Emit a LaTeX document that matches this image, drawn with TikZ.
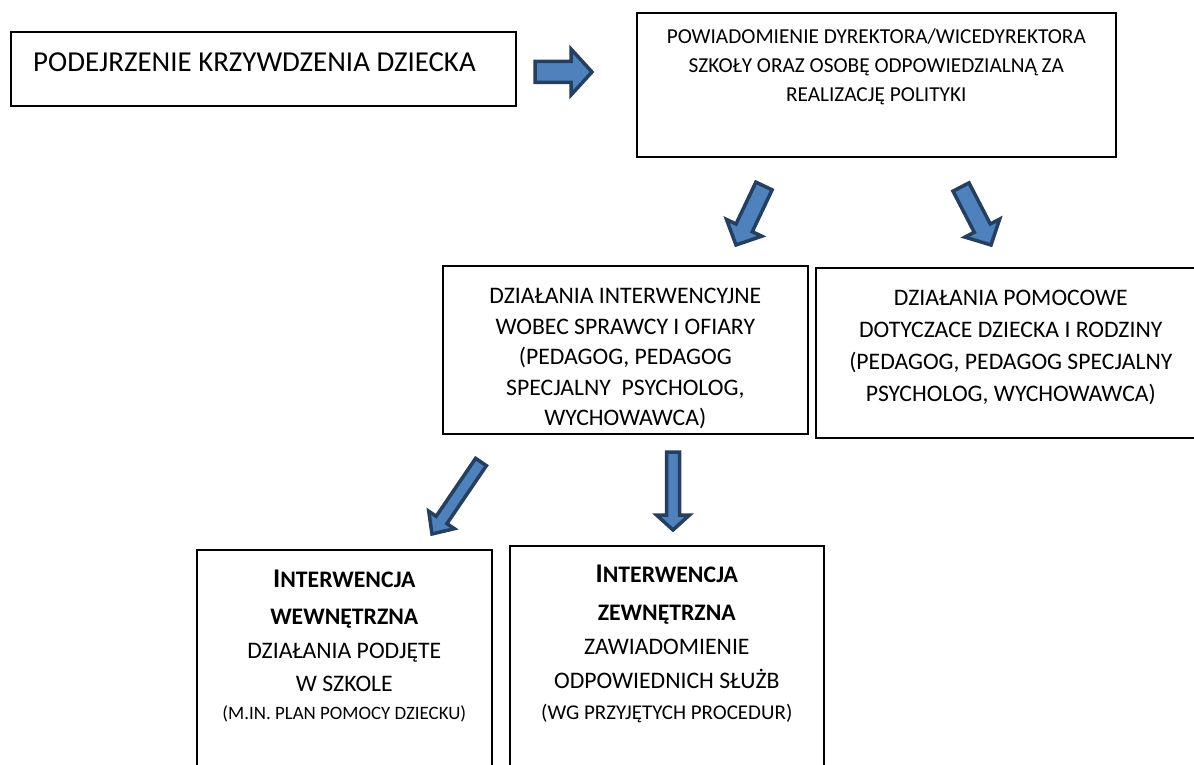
\documentclass[tikz,border=0pt]{standalone}
\usepackage{fontspec}
\setmainfont{Carlito}
\usetikzlibrary{positioning,calc}

\definecolor{arrowfill}{HTML}{4F81BD}
\definecolor{arrowline}{HTML}{243F60}

\tikzset{
  box/.style={draw, line width=1.6pt, anchor=north west, inner sep=0pt},
  boxtext/.style={inner sep=0pt, align=center},
  blockarrow/.style={fill=arrowfill, draw=arrowline, line width=3.5pt, line join=miter},
}

% block arrow: tail #1, tip #2, half shaft #3, half head #4, head length #5
\newcommand{\blockarrow}[5]{%
  \coordinate (hb) at ($(#2)!#5!(#1)$);
  \draw[blockarrow] ($(#1)!#3!90:(#2)$) -- ($(hb)!#3!90:(#2)$) -- ($(hb)!#4!90:(#2)$) -- (#2)
    -- ($(hb)!#4!-90:(#2)$) -- ($(hb)!#3!-90:(#2)$) -- ($(#1)!#3!-90:(#2)$) -- cycle;
}

\begin{document}
\begin{tikzpicture}[x=1pt, y=-1pt]

    % --- Page frame ---
    \useasboundingbox (0,0) rectangle (1194,765);
    \clip (0,0) rectangle (1194,765);

    % --- Boxes ---
    \node[box, minimum width=505, minimum height=74] (suspect) at (10,31) {};
    \node[box, minimum width=479, minimum height=144] (notify) at (636,12) {};
    \node[box, minimum width=365, minimum height=168] (intervene) at (442,265) {};
    \node[box, minimum width=390, minimum height=170] (support) at (815,267) {};
    \node[box, minimum width=295, minimum height=240] (internal) at (196,549) {};
    \node[box, minimum width=314, minimum height=240] (external) at (509,545) {};

    % --- Texts ---
    \node[inner sep=0pt, anchor=west, right=23pt of suspect.west, yshift=7pt,
          font=\fontsize{28.9}{34}\selectfont] (suspecttxt) {PODEJRZENIE KRZYWDZENIA DZIECKA};

    \node[boxtext, below=17pt of notify.north, font=\fontsize{21.3}{29}\selectfont] (notifytxt)
      {POWIADOMIENIE DYREKTORA/WICEDYREKTORA\\
       SZKOŁY ORAZ OSOBĘ ODPOWIEDZIALNĄ ZA\\
       REALIZACJĘ POLITYKI};

    \node[boxtext, below=23pt of intervene.north, font=\fontsize{23.7}{30.5}\selectfont] (intervenetxt)
      {DZIAŁANIA INTERWENCYJNE\\
       WOBEC SPRAWCY I OFIARY\\
       (PEDAGOG, PEDAGOG\\
       SPECJALNY\ \ PSYCHOLOG,\\
       WYCHOWAWCA)};

    \node[boxtext, below=23pt of support.north, font=\fontsize{23.7}{32}\selectfont] (supporttxt)
      {DZIAŁANIA POMOCOWE\\
       DOTYCZACE DZIECKA I RODZINY\\
       (PEDAGOG, PEDAGOG SPECJALNY\\
       PSYCHOLOG, WYCHOWAWCA)};

    \node[boxtext, below=21pt of internal.north, font=\fontsize{23.7}{33.5}\selectfont] (internaltxt)
      {\textbf{{\fontsize{27}{33.5}\selectfont I}NTERWENCJA}\\[3.5pt]
       \textbf{WEWNĘTRZNA}\\
       DZIAŁANIA PODJĘTE\\
       W SZKOLE\\[-6pt]
       {\fontsize{18.9}{22}\selectfont (M.IN. PLAN POMOCY DZIECKU)}};

    \node[boxtext, below=20pt of external.north, font=\fontsize{23.7}{34}\selectfont] (externaltxt)
      {\textbf{{\fontsize{27}{34}\selectfont I}NTERWENCJA}\\[4pt]
       \textbf{ZEWNĘTRZNA}\\
       ZAWIADOMIENIE\\
       ODPOWIEDNICH SŁUŻB\\[-3pt]
       {\fontsize{21}{24}\selectfont (WG PRZYJĘTYCH PROCEDUR)}};

    % --- Arrow ends ---
    \coordinate (tailA) at (535,72);  \coordinate (tipA) at (592,72);
    \coordinate (tailB) at (764,186); \coordinate (tipB) at (736,245);
    \coordinate (tailC) at (961,187); \coordinate (tipC) at (991,245);
    \coordinate (tailD) at (481,462); \coordinate (tipD) at (432,534);
    \coordinate (tailE) at (673,452); \coordinate (tipE) at (673,530);

    % --- Block arrows ---
    \blockarrow{tailA}{tipA}{10.5pt}{23pt}{21pt}
    \blockarrow{tailB}{tipB}{9pt}{19.5pt}{19pt}
    \blockarrow{tailC}{tipC}{9pt}{19.5pt}{19pt}
    \blockarrow{tailD}{tipD}{6.5pt}{15.5pt}{17pt}
    \blockarrow{tailE}{tipE}{6.5pt}{16.5pt}{15pt}

\end{tikzpicture}
\end{document}
